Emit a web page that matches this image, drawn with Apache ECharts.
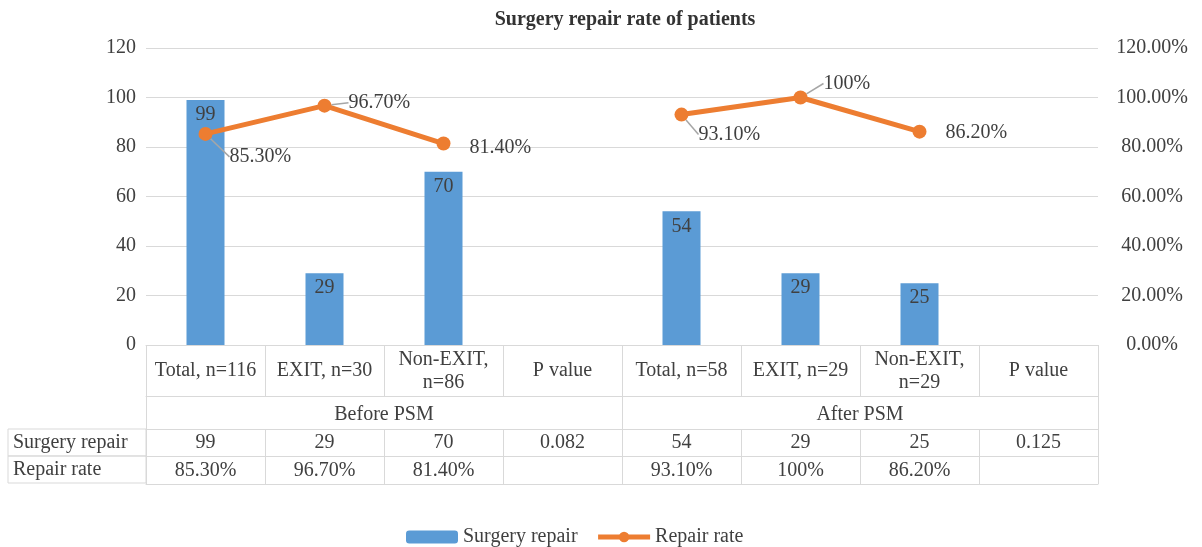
<!DOCTYPE html>
<html>
<head>
<meta charset="utf-8">
<script src="https://cdn.jsdelivr.net/npm/echarts@6/dist/echarts.min.js"></script>
<style>
    html, body { margin: 0; padding: 0; background: #fff; }
    #chart { width: 1202px; height: 547px; }
</style>
</head>
<body>
<div id="chart"></div>
<script>
// categories of the data table
var categories = ['Total, n=116', 'EXIT, n=30', 'Non-EXIT,\nn=86', 'P value',
                  'Total, n=58', 'EXIT, n=29', 'Non-EXIT,\nn=29', 'P value'];
var groups = ['Before PSM', 'After PSM'];
// bars: surgery repair counts (P value columns empty)
var repairCounts = [99, 29, 70, '-', 54, 29, 25, '-'];
// line: repair rate in %
var repairRate = [85.3, 96.7, 81.4, '-', 93.1, 100, 86.2, '-'];
var rateLabels = ['85.30%', '96.70%', '81.40%', '', '93.10%', '100%', '86.20%', ''];
var pValues = ['0.082', '0.125'];

var FONT = '"Liberation Serif", "DejaVu Serif", serif';
var TXT = '#404040';
var BORDER = '#d9d9d9';
var FS = 20;

// table row "Surgery repair": counts, with p value in P value column
var countRow = repairCounts.map(function (v, i) {
    if (v === '-') return pValues[i < 4 ? 0 : 1];
    return String(v);
});

// label nudges (style only)
var labelDx = [4, 4, 6, 0, -3, 3, 6, 0];
var labelDy = [23, -3, 4, 0, 20, -14, 1, 0];
var leader = [true, true, false, false, true, true, false, false];

var chart = echarts.init(document.getElementById('chart'));

function tableAxis(data, offset, tickLen, margin, extra) {
    var ax = {
        type: 'category',
        gridIndex: 0,
        position: 'bottom',
        offset: offset,
        data: data,
        boundaryGap: true,
        axisLine: { show: true, onZero: false, lineStyle: { color: BORDER, width: 1 } },
        axisTick: { show: true, length: tickLen, interval: 0, lineStyle: { color: BORDER, width: 1 } },
        axisLabel: {
            show: true, interval: 0, margin: margin, verticalAlign: 'middle',
            fontFamily: FONT, fontSize: FS, color: TXT, lineHeight: 23
        },
        splitLine: { show: false }
    };
    return Object.assign(ax, extra || {});
}

function rowName(text) {
    return {
        name: '{c|' + text + '}',
        nameLocation: 'start',
        nameGap: 138,
        nameTextStyle: {
            align: 'left', verticalAlign: 'top',
            rich: {
                c: {
                    fontFamily: FONT, fontSize: FS, color: TXT,
                    width: 133, height: 27, lineHeight: 27,
                    padding: [0, 0, 0, 5],
                    borderColor: BORDER, borderWidth: 1
                }
            }
        }
    };
}

var option = {
    backgroundColor: '#fff',
    animation: false,
    title: {
        text: 'Surgery repair rate of patients',
        left: 620,
        textAlign: 'center',
        top: 5,
        textStyle: { fontFamily: FONT, fontSize: 20, fontWeight: 'bold', color: '#333' }
    },
    legend: {
        left: 401,
        top: 522,
        itemWidth: 52,
        itemHeight: 13,
        itemGap: 18,
        textStyle: { fontFamily: FONT, fontSize: FS, color: TXT },
        data: [
            { name: 'Surgery repair' },
            { name: 'Repair rate', lineStyle: { width: 5 } }
        ]
    },
    grid: { left: 146, right: 104, top: 48, bottom: 202 },
    xAxis: [
        tableAxis(categories, 0, 51, 26),
        tableAxis(groups, 51, 33, 19),
        tableAxis(countRow, 84, 27, 14, rowName('Surgery repair')),
        tableAxis(rateLabels, 111, 28, 15, rowName('Repair rate')),
        tableAxis(categories, 139, 0, 0, {
            axisTick: { show: false },
            axisLabel: { show: false }
        })
    ],
    yAxis: [
        {
            type: 'value', min: 0, max: 120, interval: 20,
            axisLine: { show: false }, axisTick: { show: false },
            splitLine: { lineStyle: { color: BORDER, width: 1 } },
            axisLabel: { fontFamily: FONT, fontSize: FS, color: TXT, margin: 10 }
        },
        {
            type: 'value', min: 0, max: 120, interval: 20, position: 'right',
            axisLine: { show: false }, axisTick: { show: false },
            splitLine: { show: false },
            axisLabel: {
                fontFamily: FONT, fontSize: FS, color: TXT, margin: 54, align: 'center',
                formatter: function (v) { return v.toFixed(2) + '%'; }
            }
        }
    ],
    series: [
        {
            name: 'Surgery repair',
            type: 'bar',
            xAxisIndex: 0,
            yAxisIndex: 0,
            data: repairCounts,
            barWidth: 38,
            itemStyle: { color: '#5B9BD5' },
            label: {
                show: true, position: 'insideTop', distance: 5,
                fontFamily: FONT, fontSize: FS, color: TXT
            }
        },
        {
            name: 'Repair rate',
            type: 'line',
            xAxisIndex: 0,
            yAxisIndex: 1,
            connectNulls: false,
            data: repairRate.map(function (v, i) {
                return { value: v, labelLine: { show: leader[i] } };
            }),
            symbol: 'circle',
            symbolSize: 14,
            itemStyle: { color: '#ED7D31' },
            lineStyle: { color: '#ED7D31', width: 5 },
            z: 5,
            label: {
                show: true, position: 'right', distance: 13,
                fontFamily: FONT, fontSize: FS, color: TXT,
                formatter: function (p) { return rateLabels[p.dataIndex]; }
            },
            labelLine: { show: false, lineStyle: { color: '#a6a6a6', width: 1.5 } },
            labelLayout: function (p) {
                return { dx: labelDx[p.dataIndex], dy: labelDy[p.dataIndex] };
            }
        }
    ]
};

chart.setOption(option);
</script>
</body>
</html>
